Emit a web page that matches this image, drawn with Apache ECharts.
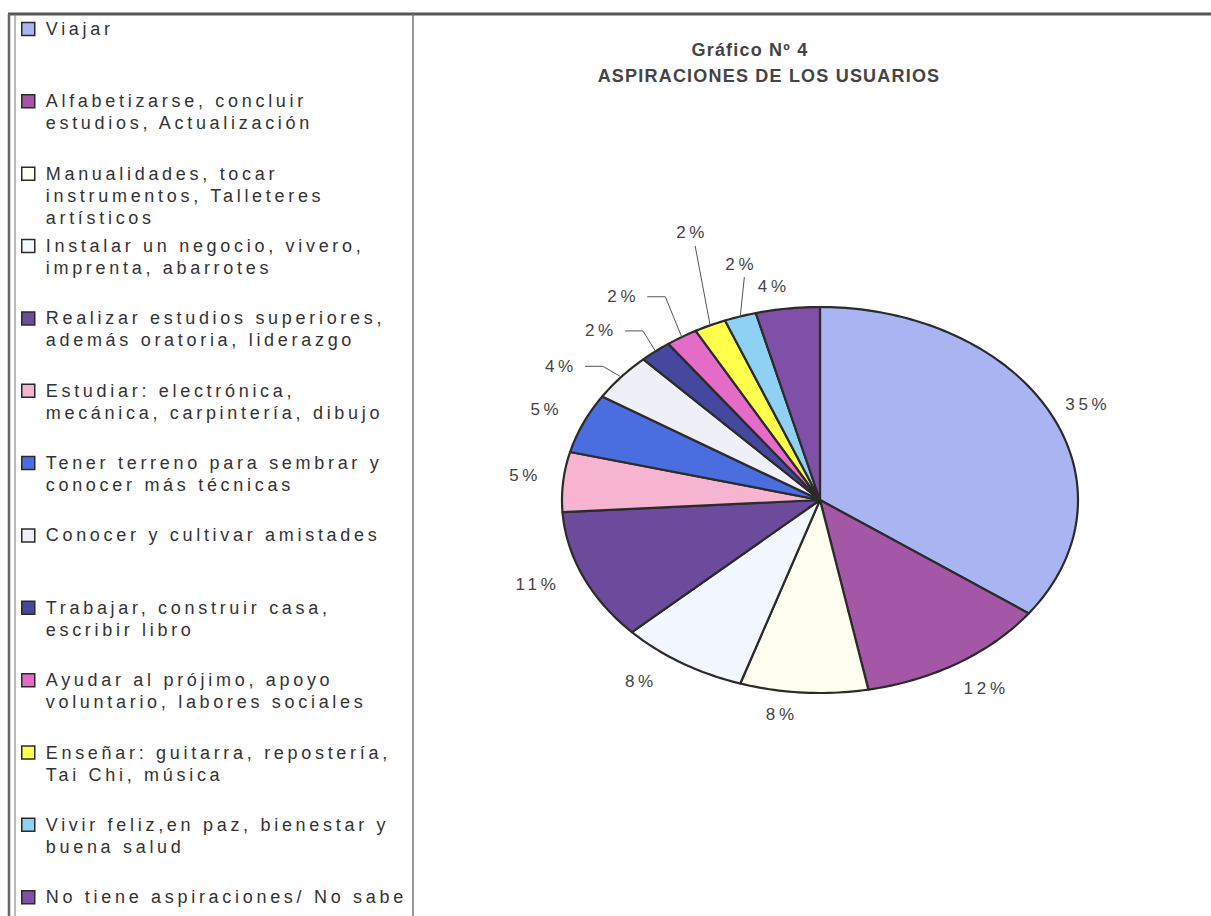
<!DOCTYPE html>
<html>
<head>
<meta charset="utf-8">
<script src="https://cdn.jsdelivr.net/npm/echarts@6/dist/echarts.min.js"></script>
<style>
  html, body { margin: 0; padding: 0; background: #fff; }
  #chart { width: 1211px; height: 916px; }
  #chart text { letter-spacing: 3.7px; }
  #chart text[style*="bold"], #chart text[font-weight="bold"] { letter-spacing: 1.2px; }
</style>
</head>
<body>
<div id="chart"></div>
<script>
// categorías (leyenda) y porcentajes del gráfico
const categories = [
  'Viajar',
  'Alfabetizarse, concluir\nestudios, Actualización',
  'Manualidades, tocar\ninstrumentos, Talleteres\nartísticos',
  'Instalar un negocio, vivero,\nimprenta, abarrotes',
  'Realizar estudios superiores,\nademás oratoria, liderazgo',
  'Estudiar: electrónica,\nmecánica, carpintería, dibujo',
  'Tener terreno para sembrar y\nconocer más técnicas',
  'Conocer y cultivar amistades',
  'Trabajar, construir casa,\nescribir libro',
  'Ayudar al prójimo, apoyo\nvoluntario, labores sociales',
  'Enseñar: guitarra, repostería,\nTai Chi, música',
  'Vivir feliz,en paz, bienestar y\nbuena salud',
  'No tiene aspiraciones/ No sabe'
];
const shares = [35, 12, 8, 8, 11, 5, 5, 4, 2, 2, 2, 2, 4];
const colors = ['#a9b4f2', '#a457a6', '#fffff0', '#f2f8fd', '#6c4b9d', '#f7b4d1', '#4a6ee0',
                '#efeff8', '#45489f', '#e46cc6', '#ffff4c', '#8fd0f5', '#8050a8'];

// colocación de las etiquetas (radio relativo, giro en grados, tipo de guía)
const labelRadius = [1.15, 1.17, 1.12, 1.17, 1.18, 1.15, 1.16, 1.22, 1.22, 1.30, 1.47, 1.26, 1.12];
const labelTurn = [1.5, -1, 4, 4, 1.5, 1, 0.5, -5, -4.5, -3.5, 5.5, 4, -2];
const leader = ['', '', '', '', '', '', '', 'side', 'side', 'side', 'below', 'below', ''];

const total = shares.reduce((a, b) => a + b, 0);
const FONT = '"Liberation Sans", Arial, sans-serif';

function sliceRenderer(i) {
  return function (params, api) {
    const share = api.value(0);
    const before = shares.slice(0, i).reduce((a, b) => a + b, 0);
    const a0 = before / total * Math.PI * 2;
    const a1 = (before + share) / total * Math.PI * 2;
    const pts = [api.coord([0, 0])];
    const steps = Math.max(4, Math.ceil((a1 - a0) / 0.02));
    for (let k = 0; k <= steps; k++) {
      const t = a0 + (a1 - a0) * k / steps;
      pts.push(api.coord([Math.sin(t), Math.cos(t)]));
    }
    const mid = (a0 + a1) / 2;
    const la = mid + labelTurn[i] * Math.PI / 180;
    const r = labelRadius[i];
    const lp = api.coord([r * Math.sin(la), r * Math.cos(la)]);
    const edge = api.coord([Math.sin(mid), Math.cos(mid)]);
    const children = [
      {
        type: 'polygon',
        shape: { points: pts },
        style: { fill: colors[i], stroke: '#2b2b2b', lineWidth: 2.2, lineJoin: 'round' }
      },
      {
        type: 'text',
        x: lp[0], y: lp[1],
        style: {
          text: Math.round(share / total * 100) + '%',
          align: 'center', verticalAlign: 'middle',
          font: '17px ' + FONT, fill: '#444'
        }
      }
    ];
    if (leader[i] === 'side') {
      children.push({
        type: 'polyline',
        shape: { points: [[lp[0] + 24, lp[1]], [lp[0] + 42, lp[1]], edge] },
        style: { stroke: '#555', lineWidth: 1, fill: null }
      });
    } else if (leader[i] === 'below') {
      children.push({
        type: 'line',
        shape: { x1: lp[0] + 3, y1: lp[1] + 13, x2: edge[0], y2: edge[1] },
        style: { stroke: '#555', lineWidth: 1 }
      });
    }
    return { type: 'group', children: children };
  };
}

// una leyenda por entrada: la primera línea del texto queda a la altura del cuadro
const lineH = 22;
const legends = categories.map((name, i) => {
  const n = name.split('\n').length;
  return {
    data: [name],
    orient: 'vertical',
    left: 21,
    top: 29 + i * 72.35 - (2 * n - 1) * lineH / 2,
    padding: 0,
    selectedMode: false,
    icon: 'rect',
    itemWidth: 13,
    itemHeight: 13,
    itemStyle: { borderColor: '#2b2b2b', borderWidth: 1.5 },
    formatter: (label) => '\n'.repeat(n - 1) + label,
    textStyle: {
      fontFamily: FONT, fontSize: 18, color: '#333',
      lineHeight: lineH, padding: [0, 0, 0, 6]
    }
  };
});

const titleStyle = { fontFamily: FONT, fontSize: 18, fontWeight: 'bold', color: '#444', lineHeight: 26 };

const chart = echarts.init(document.getElementById('chart'), null, { renderer: 'svg' });
chart.setOption({
  backgroundColor: '#fff',
  animation: false,
  title: {
    text: '{a|Gráfico Nº 4}\n{b|ASPIRACIONES DE LOS USUARIOS}',
    left: 769,
    top: 37,
    padding: 0,
    textAlign: 'center',
    textStyle: Object.assign({}, titleStyle, {
      rich: {
        a: Object.assign({}, titleStyle, { padding: [0, 38, 0, 0] }),
        b: titleStyle
      }
    })
  },
  legend: legends,
  grid: { left: 562, top: 307, width: 516, height: 386 },
  xAxis: { type: 'value', min: -1, max: 1, show: false },
  yAxis: { type: 'value', min: -1, max: 1, show: false },
  series: categories.map((name, i) => ({
    type: 'custom',
    name: name,
    coordinateSystem: 'cartesian2d',
    itemStyle: { color: colors[i] },
    data: [[shares[i]]],
    renderItem: sliceRenderer(i)
  })),
  graphic: [
    { type: 'line', shape: { x1: 8, y1: 14, x2: 1211, y2: 14 }, style: { stroke: '#555', lineWidth: 3 } },
    { type: 'line', shape: { x1: 9, y1: 14, x2: 9, y2: 916 }, style: { stroke: '#666', lineWidth: 2.5 } },
    { type: 'line', shape: { x1: 15, y1: 14, x2: 15, y2: 916 }, style: { stroke: '#777', lineWidth: 1 } },
    { type: 'line', shape: { x1: 413, y1: 14, x2: 413, y2: 916 }, style: { stroke: '#777', lineWidth: 1.5 } }
  ]
});
</script>
</body>
</html>
